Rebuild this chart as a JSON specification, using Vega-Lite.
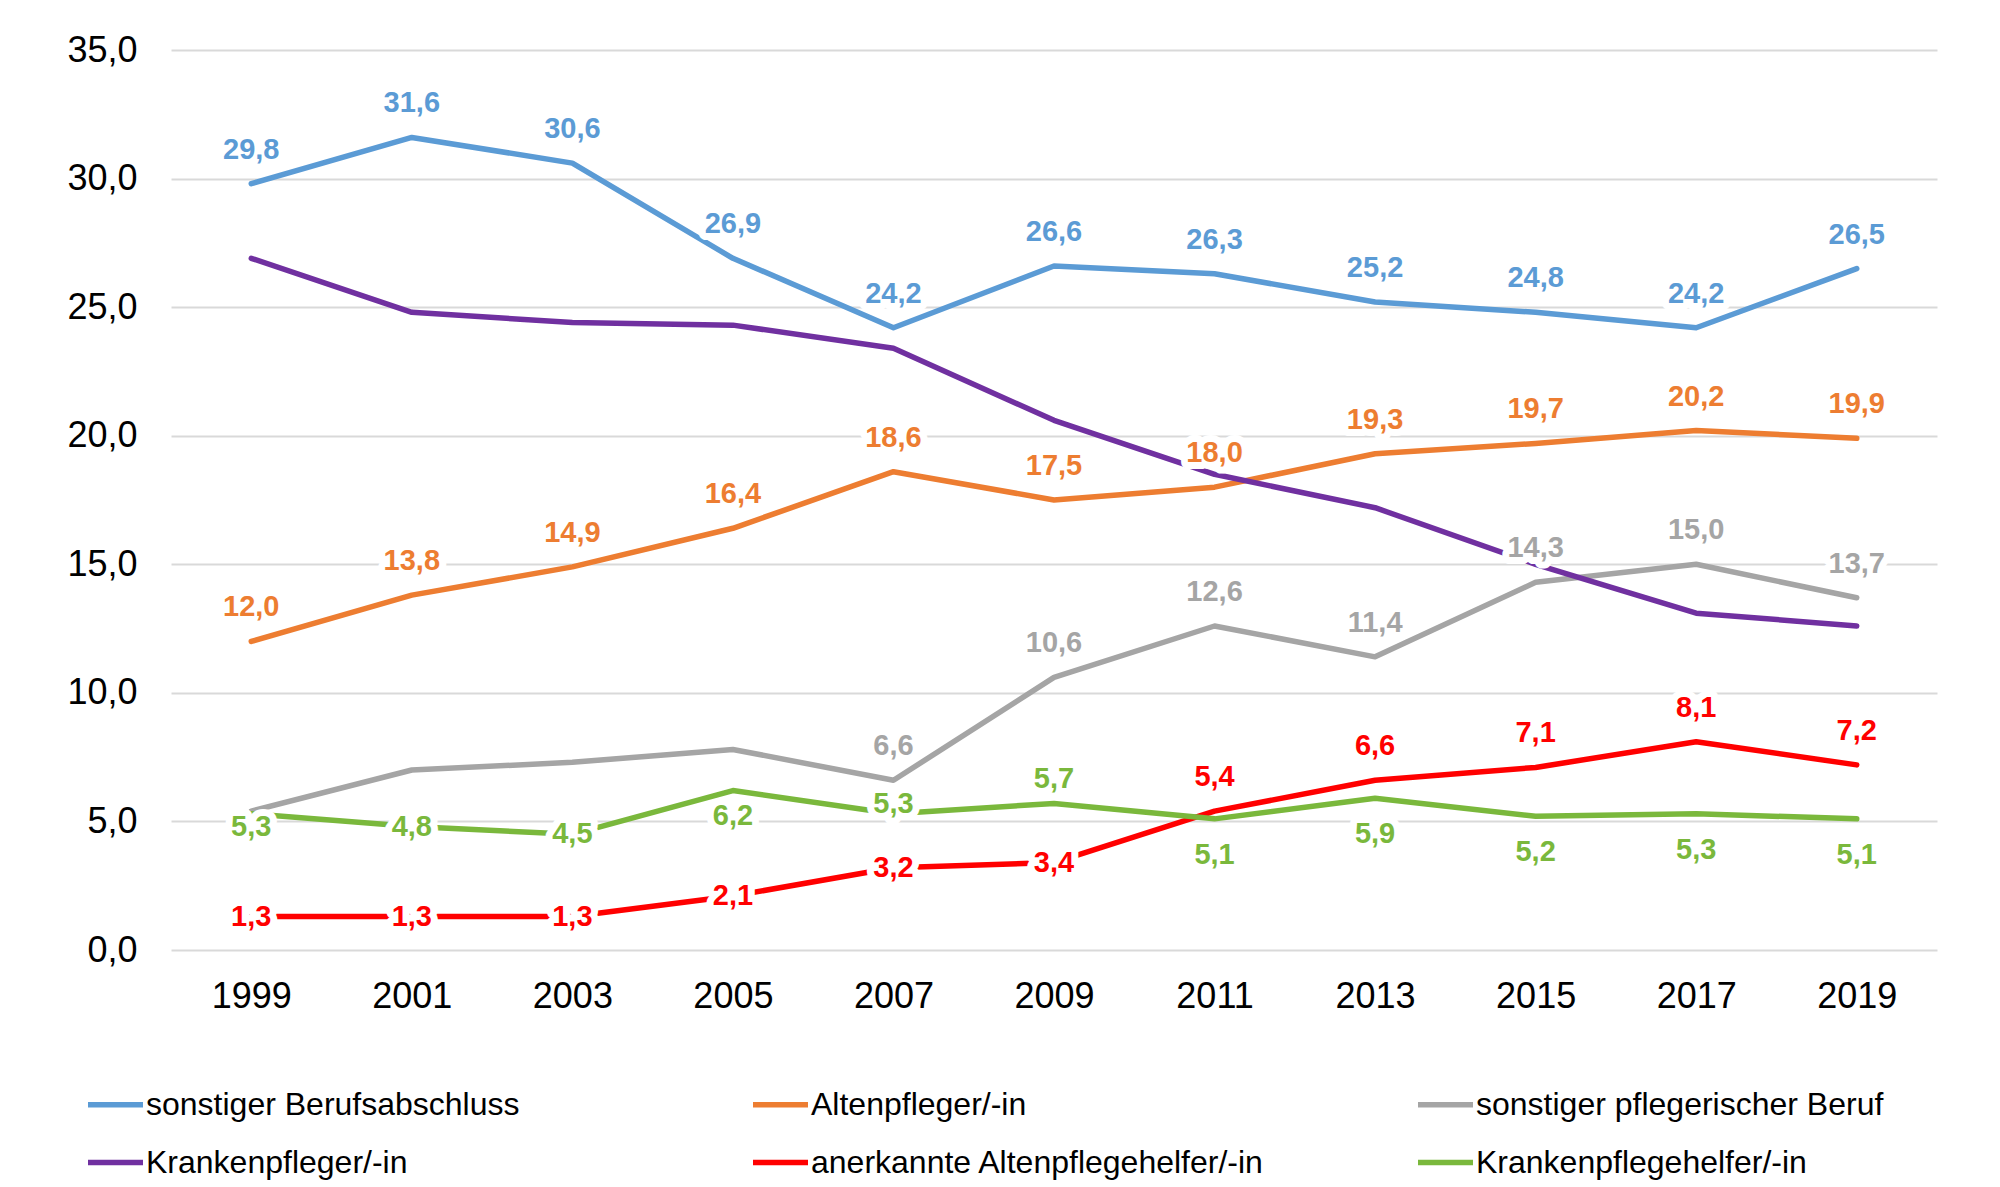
{
  "$schema": "https://vega.github.io/schema/vega-lite/v6.json",
  "autosize": "none",
  "width": 1766,
  "height": 900,
  "padding": {"left": 171, "top": 50, "right": 63, "bottom": 237},
  "background": "white",
  "config": {
    "font": "Liberation Sans",
    "locale": {"number": {"decimal": ",", "thousands": ".", "grouping": [3], "currency": ["", " €"]}},
    "view": {"stroke": null},
    "axis": {"labelFont": "Liberation Sans", "labelColor": "#000000", "labelFontSize": 36, "ticks": false, "domain": false, "title": null}
  },
  "data": {"values": [
    {"year": 1999, "series": "sonstiger Berufsabschluss", "value": 29.8},
    {"year": 2001, "series": "sonstiger Berufsabschluss", "value": 31.6},
    {"year": 2003, "series": "sonstiger Berufsabschluss", "value": 30.6},
    {"year": 2005, "series": "sonstiger Berufsabschluss", "value": 26.9},
    {"year": 2007, "series": "sonstiger Berufsabschluss", "value": 24.2},
    {"year": 2009, "series": "sonstiger Berufsabschluss", "value": 26.6},
    {"year": 2011, "series": "sonstiger Berufsabschluss", "value": 26.3},
    {"year": 2013, "series": "sonstiger Berufsabschluss", "value": 25.2},
    {"year": 2015, "series": "sonstiger Berufsabschluss", "value": 24.8},
    {"year": 2017, "series": "sonstiger Berufsabschluss", "value": 24.2},
    {"year": 2019, "series": "sonstiger Berufsabschluss", "value": 26.5},
    {"year": 1999, "series": "Altenpfleger/-in", "value": 12.0},
    {"year": 2001, "series": "Altenpfleger/-in", "value": 13.8},
    {"year": 2003, "series": "Altenpfleger/-in", "value": 14.9},
    {"year": 2005, "series": "Altenpfleger/-in", "value": 16.4},
    {"year": 2007, "series": "Altenpfleger/-in", "value": 18.6},
    {"year": 2009, "series": "Altenpfleger/-in", "value": 17.5},
    {"year": 2011, "series": "Altenpfleger/-in", "value": 18.0},
    {"year": 2013, "series": "Altenpfleger/-in", "value": 19.3},
    {"year": 2015, "series": "Altenpfleger/-in", "value": 19.7},
    {"year": 2017, "series": "Altenpfleger/-in", "value": 20.2},
    {"year": 2019, "series": "Altenpfleger/-in", "value": 19.9},
    {"year": 1999, "series": "sonstiger pflegerischer Beruf", "value": 5.4},
    {"year": 2001, "series": "sonstiger pflegerischer Beruf", "value": 7.0},
    {"year": 2003, "series": "sonstiger pflegerischer Beruf", "value": 7.3},
    {"year": 2005, "series": "sonstiger pflegerischer Beruf", "value": 7.8},
    {"year": 2007, "series": "sonstiger pflegerischer Beruf", "value": 6.6},
    {"year": 2009, "series": "sonstiger pflegerischer Beruf", "value": 10.6},
    {"year": 2011, "series": "sonstiger pflegerischer Beruf", "value": 12.6},
    {"year": 2013, "series": "sonstiger pflegerischer Beruf", "value": 11.4},
    {"year": 2015, "series": "sonstiger pflegerischer Beruf", "value": 14.3},
    {"year": 2017, "series": "sonstiger pflegerischer Beruf", "value": 15.0},
    {"year": 2019, "series": "sonstiger pflegerischer Beruf", "value": 13.7},
    {"year": 1999, "series": "Krankenpfleger/-in", "value": 26.9},
    {"year": 2001, "series": "Krankenpfleger/-in", "value": 24.8},
    {"year": 2003, "series": "Krankenpfleger/-in", "value": 24.4},
    {"year": 2005, "series": "Krankenpfleger/-in", "value": 24.3},
    {"year": 2007, "series": "Krankenpfleger/-in", "value": 23.4},
    {"year": 2009, "series": "Krankenpfleger/-in", "value": 20.6},
    {"year": 2011, "series": "Krankenpfleger/-in", "value": 18.5},
    {"year": 2013, "series": "Krankenpfleger/-in", "value": 17.2},
    {"year": 2015, "series": "Krankenpfleger/-in", "value": 15.0},
    {"year": 2017, "series": "Krankenpfleger/-in", "value": 13.1},
    {"year": 2019, "series": "Krankenpfleger/-in", "value": 12.6},
    {"year": 1999, "series": "anerkannte Altenpflegehelfer/-in", "value": 1.3},
    {"year": 2001, "series": "anerkannte Altenpflegehelfer/-in", "value": 1.3},
    {"year": 2003, "series": "anerkannte Altenpflegehelfer/-in", "value": 1.3},
    {"year": 2005, "series": "anerkannte Altenpflegehelfer/-in", "value": 2.1},
    {"year": 2007, "series": "anerkannte Altenpflegehelfer/-in", "value": 3.2},
    {"year": 2009, "series": "anerkannte Altenpflegehelfer/-in", "value": 3.4},
    {"year": 2011, "series": "anerkannte Altenpflegehelfer/-in", "value": 5.4},
    {"year": 2013, "series": "anerkannte Altenpflegehelfer/-in", "value": 6.6},
    {"year": 2015, "series": "anerkannte Altenpflegehelfer/-in", "value": 7.1},
    {"year": 2017, "series": "anerkannte Altenpflegehelfer/-in", "value": 8.1},
    {"year": 2019, "series": "anerkannte Altenpflegehelfer/-in", "value": 7.2},
    {"year": 1999, "series": "Krankenpflegehelfer/-in", "value": 5.3},
    {"year": 2001, "series": "Krankenpflegehelfer/-in", "value": 4.8},
    {"year": 2003, "series": "Krankenpflegehelfer/-in", "value": 4.5},
    {"year": 2005, "series": "Krankenpflegehelfer/-in", "value": 6.2},
    {"year": 2007, "series": "Krankenpflegehelfer/-in", "value": 5.3},
    {"year": 2009, "series": "Krankenpflegehelfer/-in", "value": 5.7},
    {"year": 2011, "series": "Krankenpflegehelfer/-in", "value": 5.1},
    {"year": 2013, "series": "Krankenpflegehelfer/-in", "value": 5.9},
    {"year": 2015, "series": "Krankenpflegehelfer/-in", "value": 5.2},
    {"year": 2017, "series": "Krankenpflegehelfer/-in", "value": 5.3},
    {"year": 2019, "series": "Krankenpflegehelfer/-in", "value": 5.1}
  ]},
  "encoding": {
    "x": {"field": "year", "type": "ordinal", "scale": {"type": "point", "padding": 0.5},
          "axis": {"labelAngle": 0, "labelPadding": 29, "grid": false}},
    "y": {"field": "value", "type": "quantitative", "scale": {"domain": [0, 35], "nice": false},
          "axis": {"values": [0, 5, 10, 15, 20, 25, 30, 35], "format": ".1f", "labelPadding": 34,
                   "grid": true, "gridColor": "#D9D9D9", "gridWidth": 2}},
    "color": {"field": "series", "type": "nominal",
      "scale": {"domain": ["sonstiger Berufsabschluss", "Altenpfleger/-in", "sonstiger pflegerischer Beruf", "Krankenpfleger/-in", "anerkannte Altenpflegehelfer/-in", "Krankenpflegehelfer/-in"],
                "range": ["#5B9BD5", "#ED7D31", "#A5A5A5", "#7030A0", "#FF0000", "#7AB83C"]}}
  },
  "layer": [
    {
      "mark": {"type": "line", "strokeWidth": 5.5, "strokeCap": "round", "strokeJoin": "round"},
      "encoding": {
        "color": {"field": "series", "type": "nominal",
          "legend": {"orient": "none", "legendX": -86, "legendY": 1024, "title": null, "columns": 3, "direction": "horizontal",
                     "gridAlign": "all", "columnPadding": 142, "rowPadding": 11,
                     "symbolType": "stroke", "symbolSize": 3025, "symbolStrokeWidth": 5.5,
                     "labelFontSize": 32, "labelColor": "#000000", "labelOffset": 0, "labelLimit": 700}}
      }
    },
    {"transform": [{"filter": "datum.series === 'sonstiger Berufsabschluss' || datum.series === 'Altenpfleger/-in' || (datum.series === 'sonstiger pflegerischer Beruf' && datum.year >= 2007) || (datum.series === 'anerkannte Altenpflegehelfer/-in' && datum.year >= 2011)"}],
     "mark": {"type": "text", "fontSize": 29, "fontWeight": "bold", "dy": -34, "stroke": "white", "strokeWidth": 14, "strokeJoin": "round", "fill": "white"},
     "encoding": {"text": {"field": "value", "type": "quantitative", "format": ".1f"}, "color": {"value": "white"}}},
    {"transform": [{"filter": "datum.series === 'sonstiger Berufsabschluss' || datum.series === 'Altenpfleger/-in' || (datum.series === 'sonstiger pflegerischer Beruf' && datum.year >= 2007) || (datum.series === 'anerkannte Altenpflegehelfer/-in' && datum.year >= 2011)"}],
     "mark": {"type": "text", "fontSize": 29, "fontWeight": "bold", "dy": -34},
     "encoding": {"text": {"field": "value", "type": "quantitative", "format": ".1f"}, "color": {"field": "series", "type": "nominal", "legend": null}}},
    {"transform": [{"filter": "datum.series === 'Krankenpflegehelfer/-in' && datum.year >= 2011"}],
     "mark": {"type": "text", "fontSize": 29, "fontWeight": "bold", "dy": 36, "stroke": "white", "strokeWidth": 14, "strokeJoin": "round", "fill": "white"},
     "encoding": {"text": {"field": "value", "type": "quantitative", "format": ".1f"}, "color": {"value": "white"}}},
    {"transform": [{"filter": "datum.series === 'Krankenpflegehelfer/-in' && datum.year >= 2011"}],
     "mark": {"type": "text", "fontSize": 29, "fontWeight": "bold", "dy": 36},
     "encoding": {"text": {"field": "value", "type": "quantitative", "format": ".1f"}, "color": {"field": "series", "type": "nominal", "legend": null}}},
    {"transform": [{"filter": "(datum.series === 'anerkannte Altenpflegehelfer/-in' && datum.year <= 2009) || (datum.series === 'Krankenpflegehelfer/-in' && (datum.year === 2001 || datum.year === 2003))"}],
     "mark": {"type": "text", "fontSize": 29, "fontWeight": "bold", "dy": 0, "stroke": "white", "strokeWidth": 14, "strokeJoin": "round", "fill": "white"},
     "encoding": {"text": {"field": "value", "type": "quantitative", "format": ".1f"}, "color": {"value": "white"}}},
    {"transform": [{"filter": "(datum.series === 'anerkannte Altenpflegehelfer/-in' && datum.year <= 2009) || (datum.series === 'Krankenpflegehelfer/-in' && (datum.year === 2001 || datum.year === 2003))"}],
     "mark": {"type": "text", "fontSize": 29, "fontWeight": "bold", "dy": 0},
     "encoding": {"text": {"field": "value", "type": "quantitative", "format": ".1f"}, "color": {"field": "series", "type": "nominal", "legend": null}}},
    {"transform": [{"filter": "datum.series === 'Krankenpflegehelfer/-in' && datum.year === 1999"}],
     "mark": {"type": "text", "fontSize": 29, "fontWeight": "bold", "dy": 13, "stroke": "white", "strokeWidth": 14, "strokeJoin": "round", "fill": "white"},
     "encoding": {"text": {"field": "value", "type": "quantitative", "format": ".1f"}, "color": {"value": "white"}}},
    {"transform": [{"filter": "datum.series === 'Krankenpflegehelfer/-in' && datum.year === 1999"}],
     "mark": {"type": "text", "fontSize": 29, "fontWeight": "bold", "dy": 13},
     "encoding": {"text": {"field": "value", "type": "quantitative", "format": ".1f"}, "color": {"field": "series", "type": "nominal", "legend": null}}},
    {"transform": [{"filter": "datum.series === 'Krankenpflegehelfer/-in' && datum.year === 2005"}],
     "mark": {"type": "text", "fontSize": 29, "fontWeight": "bold", "dy": 25, "stroke": "white", "strokeWidth": 14, "strokeJoin": "round", "fill": "white"},
     "encoding": {"text": {"field": "value", "type": "quantitative", "format": ".1f"}, "color": {"value": "white"}}},
    {"transform": [{"filter": "datum.series === 'Krankenpflegehelfer/-in' && datum.year === 2005"}],
     "mark": {"type": "text", "fontSize": 29, "fontWeight": "bold", "dy": 25},
     "encoding": {"text": {"field": "value", "type": "quantitative", "format": ".1f"}, "color": {"field": "series", "type": "nominal", "legend": null}}},
    {"transform": [{"filter": "datum.series === 'Krankenpflegehelfer/-in' && datum.year === 2007"}],
     "mark": {"type": "text", "fontSize": 29, "fontWeight": "bold", "dy": -10, "stroke": "white", "strokeWidth": 14, "strokeJoin": "round", "fill": "white"},
     "encoding": {"text": {"field": "value", "type": "quantitative", "format": ".1f"}, "color": {"value": "white"}}},
    {"transform": [{"filter": "datum.series === 'Krankenpflegehelfer/-in' && datum.year === 2007"}],
     "mark": {"type": "text", "fontSize": 29, "fontWeight": "bold", "dy": -10},
     "encoding": {"text": {"field": "value", "type": "quantitative", "format": ".1f"}, "color": {"field": "series", "type": "nominal", "legend": null}}},
    {"transform": [{"filter": "datum.series === 'Krankenpflegehelfer/-in' && datum.year === 2009"}],
     "mark": {"type": "text", "fontSize": 29, "fontWeight": "bold", "dy": -24, "stroke": "white", "strokeWidth": 14, "strokeJoin": "round", "fill": "white"},
     "encoding": {"text": {"field": "value", "type": "quantitative", "format": ".1f"}, "color": {"value": "white"}}},
    {"transform": [{"filter": "datum.series === 'Krankenpflegehelfer/-in' && datum.year === 2009"}],
     "mark": {"type": "text", "fontSize": 29, "fontWeight": "bold", "dy": -24},
     "encoding": {"text": {"field": "value", "type": "quantitative", "format": ".1f"}, "color": {"field": "series", "type": "nominal", "legend": null}}}
  ]
}
